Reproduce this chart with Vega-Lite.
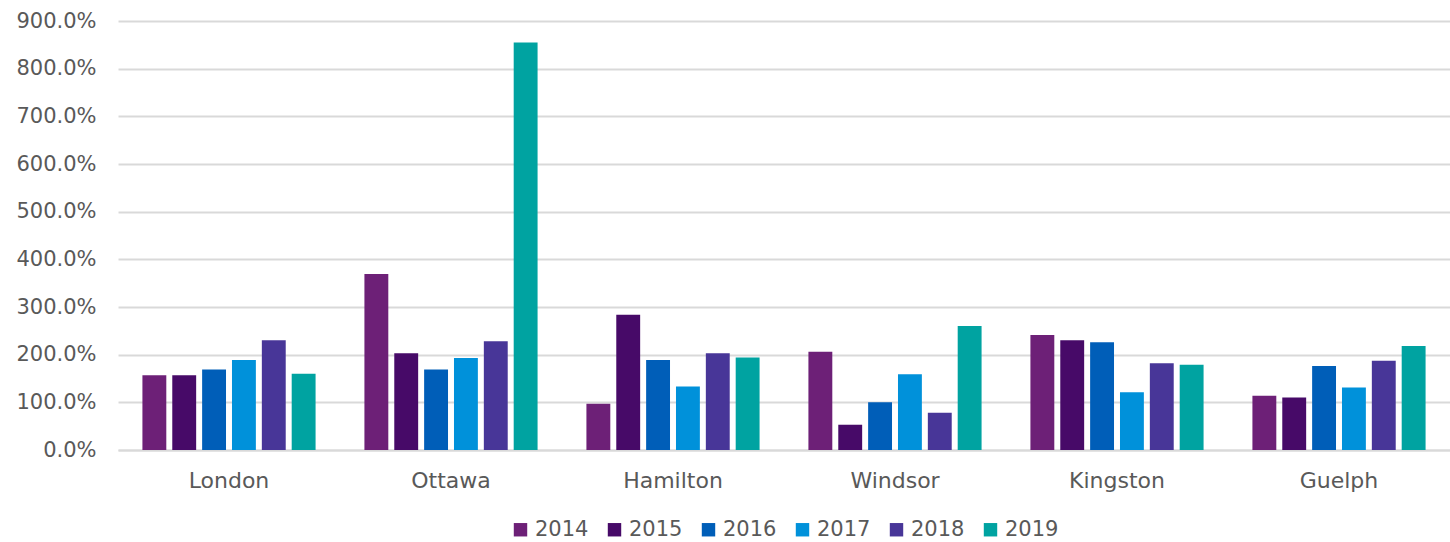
{
  "$schema": "https://vega.github.io/schema/vega-lite/v6.json",
  "width": 1450,
  "height": 542,
  "autosize": {"type": "fit", "contains": "padding"},
  "padding": {"left": 15, "top": 10, "right": 0, "bottom": 2},
  "config": {
    "font": "DejaVu Sans",
    "view": {"stroke": null},
    "axis": {"labelColor": "#595959", "labelFontSize": 21, "labelFont": "DejaVu Sans"},
    "legend": {"layout": {"bottom": {"anchor": "middle"}}}
  },
  "data": {
    "values": [
      {"city": "London", "year": "2014", "value": 1.57},
      {"city": "London", "year": "2015", "value": 1.57},
      {"city": "London", "year": "2016", "value": 1.69},
      {"city": "London", "year": "2017", "value": 1.89},
      {"city": "London", "year": "2018", "value": 2.30},
      {"city": "London", "year": "2019", "value": 1.60},
      {"city": "Ottawa", "year": "2014", "value": 3.69},
      {"city": "Ottawa", "year": "2015", "value": 2.03},
      {"city": "Ottawa", "year": "2016", "value": 1.69},
      {"city": "Ottawa", "year": "2017", "value": 1.93},
      {"city": "Ottawa", "year": "2018", "value": 2.28},
      {"city": "Ottawa", "year": "2019", "value": 8.55},
      {"city": "Hamilton", "year": "2014", "value": 0.97},
      {"city": "Hamilton", "year": "2015", "value": 2.84},
      {"city": "Hamilton", "year": "2016", "value": 1.89},
      {"city": "Hamilton", "year": "2017", "value": 1.33},
      {"city": "Hamilton", "year": "2018", "value": 2.03},
      {"city": "Hamilton", "year": "2019", "value": 1.94},
      {"city": "Windsor", "year": "2014", "value": 2.06},
      {"city": "Windsor", "year": "2015", "value": 0.53},
      {"city": "Windsor", "year": "2016", "value": 1.00},
      {"city": "Windsor", "year": "2017", "value": 1.59},
      {"city": "Windsor", "year": "2018", "value": 0.78},
      {"city": "Windsor", "year": "2019", "value": 2.60},
      {"city": "Kingston", "year": "2014", "value": 2.41},
      {"city": "Kingston", "year": "2015", "value": 2.30},
      {"city": "Kingston", "year": "2016", "value": 2.26},
      {"city": "Kingston", "year": "2017", "value": 1.21},
      {"city": "Kingston", "year": "2018", "value": 1.82},
      {"city": "Kingston", "year": "2019", "value": 1.79},
      {"city": "Guelph", "year": "2014", "value": 1.14},
      {"city": "Guelph", "year": "2015", "value": 1.10},
      {"city": "Guelph", "year": "2016", "value": 1.76},
      {"city": "Guelph", "year": "2017", "value": 1.31},
      {"city": "Guelph", "year": "2018", "value": 1.87},
      {"city": "Guelph", "year": "2019", "value": 2.18}
    ]
  },
  "mark": {"type": "bar"},
  "encoding": {
    "x": {
      "field": "city",
      "type": "nominal",
      "sort": ["London", "Ottawa", "Hamilton", "Windsor", "Kingston", "Guelph"],
      "scale": {"paddingInner": 0.22, "paddingOuter": 0.11},
      "axis": {
        "title": null,
        "labelAngle": 0,
        "ticks": false,
        "labelPadding": 20,
        "labelFontSize": 22,
        "domainColor": "#D9D9D9",
        "domainWidth": 2
      }
    },
    "xOffset": {
      "field": "year",
      "type": "nominal",
      "scale": {"paddingInner": 0.2}
    },
    "y": {
      "field": "value",
      "type": "quantitative",
      "scale": {"domain": [0, 9], "nice": false},
      "axis": {
        "title": null,
        "format": ".1%",
        "values": [0, 1, 2, 3, 4, 5, 6, 7, 8, 9],
        "domain": false,
        "ticks": false,
        "labelPadding": 22,
        "gridColor": "#D9D9D9",
        "gridWidth": 2
      }
    },
    "color": {
      "field": "year",
      "type": "nominal",
      "scale": {
        "domain": ["2014", "2015", "2016", "2017", "2018", "2019"],
        "range": ["#6D2077", "#470A68", "#005EB8", "#0091DA", "#483698", "#00A3A1"]
      },
      "legend": {
        "title": null,
        "orient": "bottom",
        "direction": "horizontal",
        "symbolType": "square",
        "symbolSize": 180,
        "symbolStrokeWidth": 0,
        "labelFontSize": 21,
        "labelColor": "#595959",
        "labelFont": "DejaVu Sans",
        "columnPadding": 15,
        "labelOffset": 4,
        "offset": 28
      }
    }
  }
}
